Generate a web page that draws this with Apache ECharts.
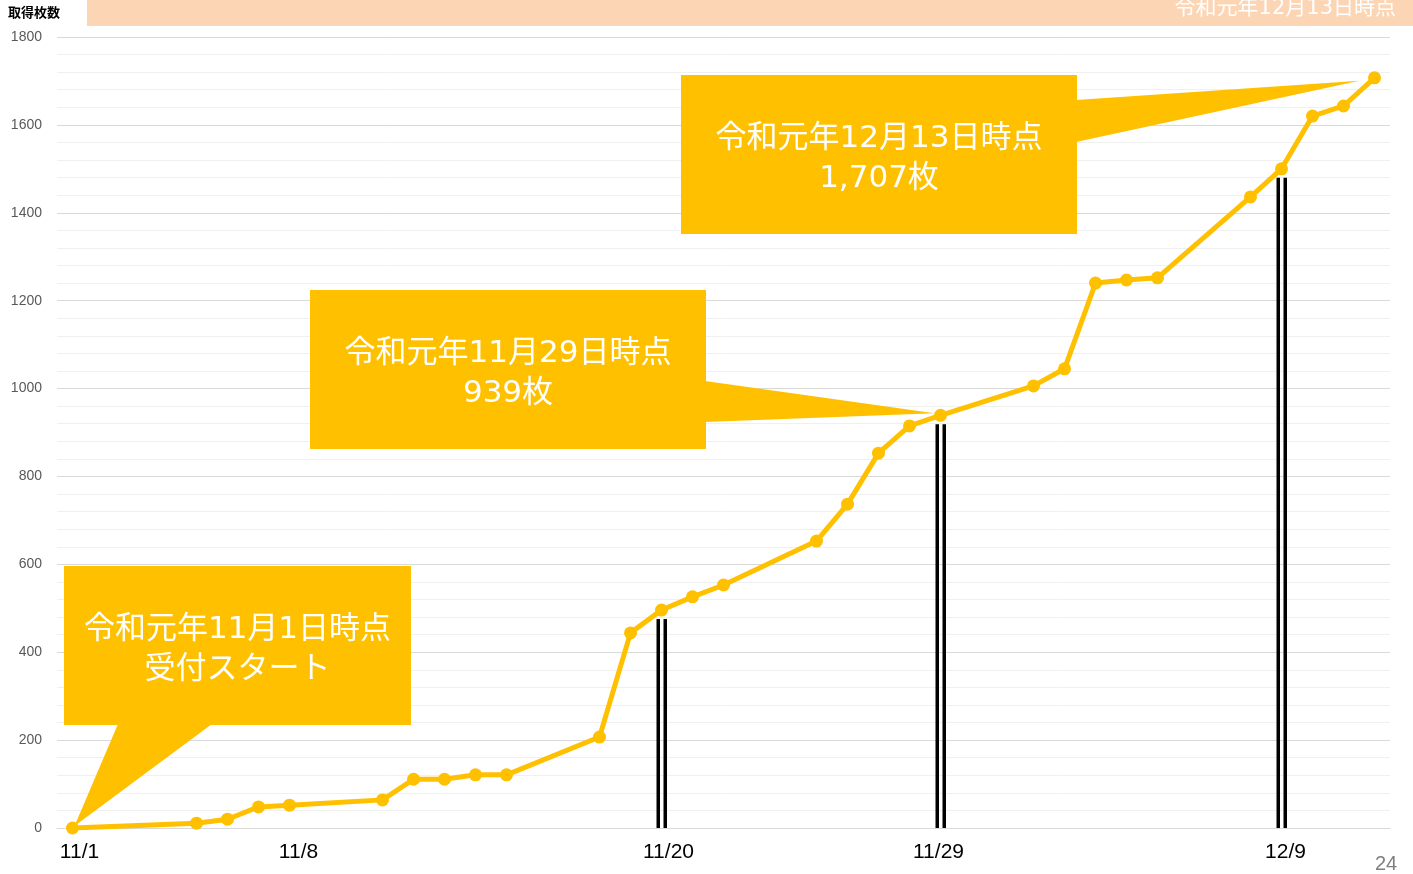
<!DOCTYPE html>
<html>
<head>
<meta charset="utf-8">
<script src="https://cdn.jsdelivr.net/npm/echarts@6/dist/echarts.min.js"></script>
<style>
  html, body { margin: 0; padding: 0; background: #fff; }
  #main { width: 1413px; height: 874px; }
</style>
</head>
<body>
<div id="main"></div>
<script>
// 受付日と累計取得枚数
const obsDates = ['11/1','11/5','11/6','11/7','11/8','11/11','11/12','11/13','11/14','11/15',
  '11/18','11/19','11/20','11/21','11/22','11/25','11/26','11/27','11/28','11/29',
  '12/2','12/3','12/4','12/5','12/6','12/9','12/10','12/11','12/12','12/13'];
const counts = [0, 11, 20, 48, 52, 64, 111, 111, 121, 121,
  207, 444, 496, 526, 553, 653, 737, 853, 915, 939,
  1006, 1045, 1240, 1247, 1252, 1436, 1500, 1620, 1643, 1707];

// x軸に表示するラベル (表示位置のずれ px)
const tickDates = ['11/1', '11/8', '11/20', '11/29', '12/9'];
const tickShift = [7, 9, 7, -2, 35];

// 縦の二重線を引く日
const barDates = ['11/20', '11/29', '12/10'];

const yTicks = [0, 1800, 200];

// 11/1 ～ 12/13 の全日付
const days = [];
for (let d = 1; d <= 30; d++) days.push('11/' + d);
for (let d = 1; d <= 13; d++) days.push('12/' + d);

const seriesData = days.map(function (d) {
  const i = obsDates.indexOf(d);
  return i >= 0 ? counts[i] : null;
});

const YELLOW = '#FFC000';
const JP = '"DejaVu Sans", "Noto Sans CJK JP"';
const chart = echarts.init(document.getElementById('main'));

const rich = {};
tickDates.forEach(function (t, i) {
  const s = tickShift[i];
  rich['t' + i] = {
    fontSize: 21,
    color: '#000',
    fontFamily: 'Liberation Sans, Noto Sans',
    padding: s >= 0 ? [0, 0, 0, s * 2] : [0, -s * 2, 0, 0]
  };
});

chart.setOption({
  animation: false,
  grid: { left: 57, right: 23, top: 37, bottom: 46 },
  xAxis: {
    type: 'category',
    data: days,
    boundaryGap: true,
    axisLine: { show: true, lineStyle: { color: '#d9d9d9', width: 1 } },
    axisTick: { show: false },
    axisLabel: {
      interval: function (idx, val) { return tickDates.indexOf(val) >= 0; },
      margin: 14,
      formatter: function (val) {
        const i = tickDates.indexOf(val);
        return '{t' + i + '|' + val + '}';
      },
      rich: rich
    },
    splitLine: { show: false }
  },
  yAxis: {
    type: 'value',
    min: yTicks[0],
    max: yTicks[1],
    interval: yTicks[2],
    axisLine: { show: false },
    axisTick: { show: false },
    axisLabel: {
      color: '#595959', fontSize: 14, margin: 15, fontFamily: 'Liberation Sans, Arial',
      formatter: function (v) { return String(v); }
    },
    splitLine: { lineStyle: { color: '#d9d9d9', width: 1 } },
    minorTick: { show: false, splitNumber: 5 },
    minorSplitLine: { show: true, lineStyle: { color: '#f0f0f0', width: 1 } }
  },
  series: [{
    type: 'line',
    data: seriesData,
    connectNulls: true,
    symbol: 'circle',
    symbolSize: 13,
    lineStyle: { color: YELLOW, width: 5 },
    itemStyle: { color: YELLOW },
    z: 3
  }]
});

function px(date, value) {
  return chart.convertToPixel({ xAxisIndex: 0, yAxisIndex: 0 }, [date, value]);
}
function countOf(date) { return counts[obsDates.indexOf(date)]; }

const g = [];

// 上部の帯
g.push({ type: 'rect', shape: { x: 87, y: 0, width: 1326, height: 26 }, style: { fill: '#FCD5B5' }, z: 1 });
g.push({ type: 'text', x: 1396, y: 9, style: { text: '令和元年12月13日時点', fill: '#fff', font: '21px ' + JP, align: 'right', verticalAlign: 'middle' }, z: 2 });
g.push({ type: 'text', x: 8, y: 12, style: { text: '取得枚数', fill: '#000', font: 'bold 13px "Noto Sans CJK JP"', align: 'left', verticalAlign: 'middle' }, z: 2 });
g.push({ type: 'text', x: 1386, y: 864, style: { text: '24', fill: '#7f7f7f', font: '20px "Liberation Sans", Arial', align: 'center', verticalAlign: 'middle' }, z: 2 });

// 縦の二重線
barDates.forEach(function (d) {
  const p = px(d, countOf(d));
  const base = px(d, 0);
  const top = p[1] + 9;
  g.push({ type: 'rect', shape: { x: p[0] - 5, y: top, width: 3.5, height: base[1] - top }, style: { fill: '#000' }, z: 1 });
  g.push({ type: 'rect', shape: { x: p[0] + 2, y: top, width: 3.5, height: base[1] - top }, style: { fill: '#000' }, z: 1 });
});

// 吹き出し
function callout(box, base, tip, lines) {
  g.push({ type: 'polygon', shape: { points: [base[0], base[1], tip] }, style: { fill: YELLOW }, z: 1 });
  g.push({ type: 'rect', shape: { x: box[0], y: box[1], width: box[2], height: box[3] }, style: { fill: YELLOW }, z: 1 });
  g.push({
    type: 'text', x: box[0] + box[2] / 2, y: box[1] + box[3] / 2 + 4,
    style: { text: lines.join('\n'), fill: '#fff', font: '31px ' + JP, lineHeight: 40, align: 'center', verticalAlign: 'middle' },
    z: 2
  });
}

const t1 = px('11/1', countOf('11/1'));
callout([64, 566, 347, 159], [[118, 724], [212, 724]], [t1[0] + 2, t1[1] - 2], ['令和元年11月1日時点', '受付スタート']);

const t2 = px('11/29', countOf('11/29'));
callout([310, 290, 396, 159], [[705, 381], [705, 422]], [t2[0] - 6, t2[1] - 2], ['令和元年11月29日時点', '939枚']);

const t3 = px('12/13', countOf('12/13'));
callout([681, 75, 396, 159], [[1076, 100], [1076, 142]], [t3[0] - 15, t3[1] + 3], ['令和元年12月13日時点', '1,707枚']);

chart.setOption({ graphic: g });
</script>
</body>
</html>
